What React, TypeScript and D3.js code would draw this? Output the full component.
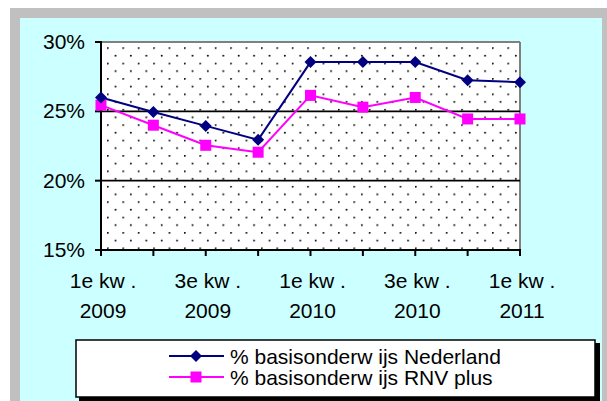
import React from "react";
import * as d3 from "d3";

const categories = [
  "1e kw . 2009", "2e kw . 2009", "3e kw . 2009", "4e kw . 2009",
  "1e kw . 2010", "2e kw . 2010", "3e kw . 2010", "4e kw . 2010", "1e kw . 2011",
];
const tickLabels: [string, string][] = [
  ["1e kw .", "2009"], ["", ""], ["3e kw .", "2009"], ["", ""],
  ["1e kw .", "2010"], ["", ""], ["3e kw .", "2010"], ["", ""], ["1e kw .", "2011"],
];
const nederland = [26.0, 24.95, 23.95, 22.95, 28.55, 28.55, 28.55, 27.25, 27.1];
const rnvPlus = [25.45, 24.0, 22.55, 22.05, 26.15, 25.3, 26.0, 24.45, 24.45];
const yTicks = [15, 20, 25, 30];
const seriesNames = ["% basisonderw ijs Nederland", "% basisonderw ijs RNV plus"];

export default function App() {
  const W = 607, H = 401;
  const left = 101, right = 520, top = 42, bottom = 250;
  const x = d3.scalePoint<string>().domain(categories).range([left, right]);
  const y = d3.scaleLinear().domain([15, 30]).range([bottom, top]);
  const line = d3.line<number>().x((_, i) => x(categories[i])!).y((d) => y(d));
  const font = "'Liberation Sans', Arial, sans-serif";
  const fs = 21;
  const diamond = (cx: number, cy: number, r = 6) =>
    `M${cx},${cy - r}L${cx + r},${cy}L${cx},${cy + r}L${cx - r},${cy}Z`;

  return (
    <svg width={W} height={H} style={{ position: "absolute", left: 0, top: 0 }} fontFamily={font}>
      <defs>
        <pattern id="dots" x={left + 6} y={top + 5.3} width={15.4} height={15.4} patternUnits="userSpaceOnUse">
          <rect width={15.4} height={15.4} fill="#ffffff" />
          <circle cx={0.8} cy={0.8} r={0.95} fill="#000" />
          <circle cx={8.5} cy={8.5} r={0.95} fill="#000" />
        </pattern>
      </defs>
      <rect x={0} y={0} width={W} height={H} fill="#ffffff" />
      <rect x={10} y={8} width={W - 10} height={H - 8} fill="#c0c0c0" />
      <rect x={20} y={18} width={582} height={H - 18} fill="#ccffff" />

      {/* plot area */}
      <rect x={left} y={top} width={right - left} height={bottom - top} fill="url(#dots)" />
      <line x1={left} x2={right} y1={top} y2={top} stroke="#808080" strokeWidth={2} />
      <line x1={right} x2={right} y1={top} y2={bottom} stroke="#808080" strokeWidth={2} />
      {yTicks.filter((t) => t !== 15 && t !== 30).map((t) => (
        <line key={t} x1={left} x2={right} y1={y(t)} y2={y(t)} stroke="#000" strokeWidth={1.8} />
      ))}

      {/* y axis */}
      <line x1={left} x2={left} y1={top - 1} y2={bottom} stroke="#000" strokeWidth={2} />
      {yTicks.map((t) => (
        <g key={t}>
          <line x1={left - 6} x2={left} y1={y(t)} y2={y(t)} stroke="#000" strokeWidth={2} />
          <text x={85} y={y(t) + 7} textAnchor="end" fontSize={fs} fill="#000">{t}%</text>
        </g>
      ))}

      {/* x axis */}
      <line x1={left} x2={right + 1} y1={bottom} y2={bottom} stroke="#000" strokeWidth={2} />
      {categories.map((c, i) => (
        <g key={c}>
          <line x1={x(c)!} x2={x(c)!} y1={bottom} y2={bottom + 6} stroke="#000" strokeWidth={2} />
          {tickLabels[i][0] && (
            <text x={x(c)! + 2} y={287.5} textAnchor="middle" fontSize={fs} fill="#000">{tickLabels[i][0]}</text>
          )}
          {tickLabels[i][1] && (
            <text x={x(c)! + 2} y={317.5} textAnchor="middle" fontSize={fs} fill="#000">{tickLabels[i][1]}</text>
          )}
        </g>
      ))}

      {/* series */}
      <path d={line(rnvPlus)!} fill="none" stroke="#ff00ff" strokeWidth={2} />
      <path d={line(nederland)!} fill="none" stroke="#000080" strokeWidth={2} />
      {rnvPlus.map((v, i) => (
        <rect key={"r" + i} x={x(categories[i])! - 5.5} y={y(v) - 5.5} width={11} height={11} fill="#ff00ff" />
      ))}
      {nederland.map((v, i) => (
        <path key={"n" + i} d={diamond(x(categories[i])!, y(v))} fill="#000080" />
      ))}

      {/* legend */}
      <rect x={79} y={343} width={521} height={58} fill="#000" />
      <rect x={76} y={340} width={519} height={57} fill="#fff" stroke="#000" strokeWidth={1.5} />
      <line x1={169} x2={224} y1={356} y2={356} stroke="#000080" strokeWidth={2} />
      <path d={diamond(196, 356)} fill="#000080" />
      <text x={230} y={363.5} fontSize={fs} fill="#000">{seriesNames[0]}</text>
      <line x1={169} x2={224} y1={377} y2={377} stroke="#ff00ff" strokeWidth={2} />
      <rect x={190.5} y={371.5} width={11} height={11} fill="#ff00ff" />
      <text x={230} y={384.5} fontSize={fs} fill="#000">{seriesNames[1]}</text>
    </svg>
  );
}
